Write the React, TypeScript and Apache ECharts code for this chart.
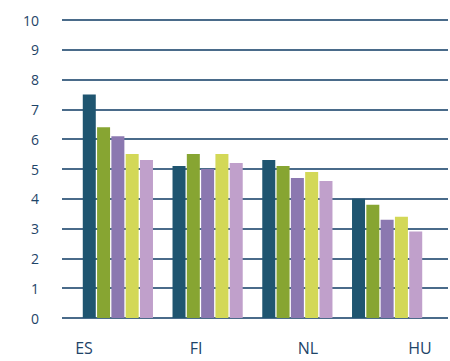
import React, { useEffect, useRef } from "react";
import * as echarts from "echarts";

const categories = ["ES", "FI", "NL", "HU"];
const yTicks = [0, 1, 2, 3, 4, 5, 6, 7, 8, 9, 10];
const series1 = [7.5, 5.1, 5.3, 4.0];
const series2 = [6.4, 5.5, 5.1, 3.8];
const series3 = [6.1, 5.0, 4.7, 3.3];
const series4 = [5.5, 5.5, 4.9, 3.4];
const series5 = [5.3, 5.2, 4.6, 2.9];
const seriesData = [series1, series2, series3, series4, series5];
const colors = ["#1f5570", "#87a532", "#8b78b0", "#d3d857", "#c0a0cb"];

export default function App() {
  const ref = useRef<HTMLDivElement>(null);
  useEffect(() => {
    if (!ref.current) return;
    const chart = echarts.init(ref.current, null, { renderer: "svg" });
    const textColor = "#1e4468";
    chart.setOption({
      animation: false,
      grid: [
        { left: 62, right: 2, top: 20, bottom: 43 },
        { left: 73, right: 18, top: 20, bottom: 43 },
        { left: 84, right: 30, top: 20, bottom: 43 },
      ],
      xAxis: [
        { gridIndex: 0, type: "category", data: categories, show: false },
        { gridIndex: 1, type: "category", data: categories, show: false },
        {
          gridIndex: 2,
          type: "category",
          data: categories,
          boundaryGap: false,
          axisLine: { show: false },
          axisTick: { show: false },
          axisLabel: {
            color: textColor,
            fontSize: 16,
            fontFamily: "Open Sans",
            margin: 22,
          },
        },
      ],
      yAxis: [
        {
          gridIndex: 0,
          type: "value",
          min: 0,
          max: 10,
          interval: 1,
          axisLine: { show: false },
          axisTick: { show: false },
          axisLabel: {
            color: textColor,
            fontSize: 14,
            fontFamily: "Open Sans",
            margin: 23,
            formatter: (v: number) => (yTicks.includes(v) ? String(v) : ""),
          },
          splitLine: { lineStyle: { color: "#4a6b8a", width: 2 } },
        },
        { gridIndex: 1, type: "value", min: 0, max: 10, show: false },
        { gridIndex: 2, type: "value", min: 0, max: 10, show: false },
      ],
      series: seriesData.map((d, i) => ({
        type: "bar",
        xAxisIndex: 1,
        yAxisIndex: 1,
        data: d,
        barWidth: 13,
        barGap: "10%",
        itemStyle: { color: colors[i] },
      })),
    });
    return () => chart.dispose();
  }, []);
  return <div ref={ref} style={{ width: 450, height: 361, position: "absolute", left: 0, top: 0 }} />;
}
